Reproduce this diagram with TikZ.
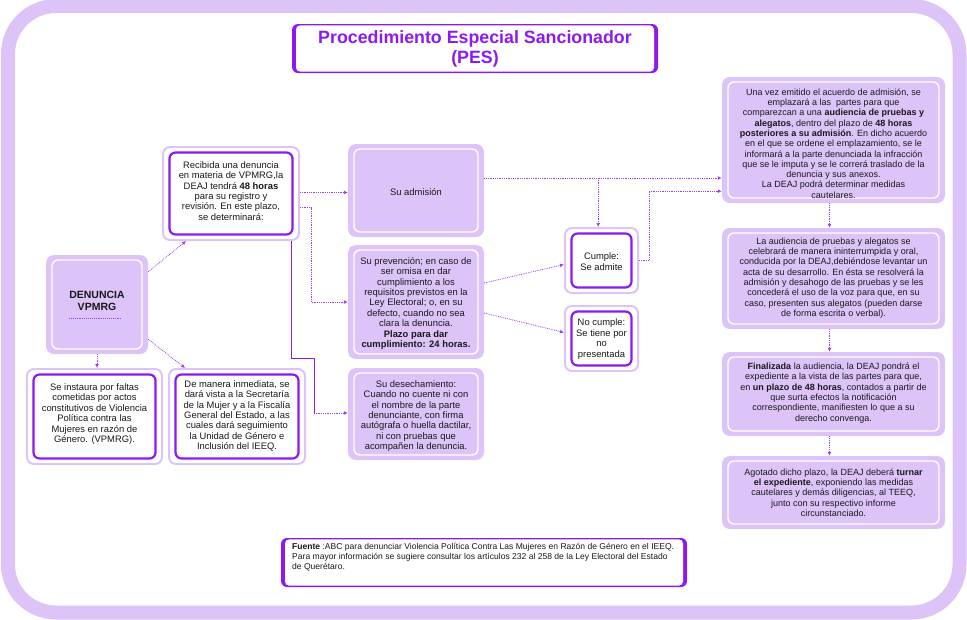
\documentclass[tikz,border=0pt]{standalone}
\usepackage{fontspec}
\setmainfont{Liberation Sans}
\usetikzlibrary{arrows.meta,fit,calc}
\definecolor{lav}{RGB}{220,196,249}
\definecolor{pur}{RGB}{140,26,240}
\definecolor{cpur}{RGB}{160,60,245}
\definecolor{txc}{RGB}{25,25,25}
\tikzset{
 lavout/.style={fill=lav, rounded corners=8pt, inner sep=0pt},
 lavin/.style={draw=white, line width=1.4pt, fill=lav, rounded corners=6pt, inner sep=0pt},
 whtout/.style={draw=lav, line width=2pt, fill=white, rounded corners=7pt, inner sep=0pt},
 whtin/.style={draw=pur, line width=2.2pt, fill=white, rounded corners=6pt, inner sep=0pt},
 txt/.style={align=center, inner sep=0pt, text=txc, font=\fontsize{9.4}{10.4}\selectfont},
 rtxt/.style={align=center, inner sep=0pt, text=txc, font=\fontsize{9}{10.3}\selectfont},
 conn/.style={draw=cpur, densely dotted, line width=0.8pt, -{Latex[length=4pt,width=4pt]}},
 solidc/.style={draw=pur, line width=0.9pt},
}
\newcommand\lavbox[5]{%
 \node[lavout, fit={(#2,#3)(#4,#5)}] (#1) {};
 \node[lavin, fit={(#2+6,#3+5)(#4-6,#5-5)}] {};}
\newcommand\whtbox[5]{%
 \node[whtout, fit={(#2,#3)(#4,#5)}] (#1) {};
 \node[whtin, fit={(#2+6.5,#3+5.5)(#4-6.5,#5-5.5)}] {};}
\begin{document}
\begin{tikzpicture}[x=1pt,y=-1pt]
\useasboundingbox (0,0) rectangle (967,619);
% outer frame
\draw[lav, line width=14pt, rounded corners=48pt] (8,6) rectangle (959.5,612.5);
% title
\node[fill=pur, rounded corners=6pt, inner sep=0pt, fit={(292,24)(658,73)}] (tit) {};
\fill[white, rounded corners=4pt] (296,25.4) rectangle (654,71.6);
\node[align=center, text=pur, font=\bfseries\fontsize{17.8}{20}\selectfont] at (tit) {Procedimiento Especial Sancionador\\(PES)};
% DENUNCIA
\lavbox{den}{46}{255}{148}{354}
\node[align=center, text=txc, font=\bfseries\fontsize{10.5}{11.5}\selectfont] (dent) at (97,301) {DENUNCIA\\VPMRG};
\draw[cpur, densely dotted, line width=0.9pt] (69,318) -- (121,318);
% left white boxes
\whtbox{rec}{163}{147}{299}{240}
\node[txt] at (231,191) {Recibida una denuncia\\en materia de VPMRG,la\\DEAJ tendrá \textbf{48 horas}\\para su registro y\\revisión. En este plazo,\\se determinará:};
\whtbox{sei}{27}{369}{162}{464}
\node[txt] at (94.5,414) {Se instaura por faltas\\cometidas por actos\\constitutivos de Violencia\\Política contra las\\Mujeres en razón de\\Género. (VPMRG).};
\whtbox{dem}{169}{369}{305}{464}
\node[txt] at (237,416) {De manera inmediata, se\\dará vista a la Secretaría\\de la Mujer y a la Fiscalía\\General del Estado, a las\\cuales dará seguimiento\\la Unidad de Género e\\Inclusión del IEEQ.};
% middle lavender boxes
\lavbox{adm}{348}{144}{484}{237}
\node[txt] at (416,192) {Su admisión};
\lavbox{prev}{348}{245}{484}{359}
\node[txt] at (416,303.5) {Su prevención; en caso de\\ser omisa en dar\\cumplimiento a los\\requisitos previstos en la\\Ley Electoral; o, en su\\defecto, cuando no sea\\clara la denuncia.\\\textbf{Plazo para dar}\\\textbf{cumplimiento: 24 horas.}};
\lavbox{des}{348}{368}{484}{460}
\node[txt] at (416,416) {Su desechamiento:\\Cuando no cuente ni con\\el nombre de la parte\\denunciante, con firma\\autógrafa o huella dactilar,\\ni con pruebas que\\acompañen la denuncia.};
% cumple / no cumple
\whtbox{cum}{565}{228}{638}{293}
\node[txt] at (601.5,261.5) {Cumple:\\Se admite};
\whtbox{noc}{565}{306}{638}{371}
\node[txt] at (601.5,339) {No cumple:\\Se tiene por\\no\\presentada};
% right column
\lavbox{r1}{722}{77}{945}{203}
\node[rtxt] at (833.5,143.5) {Una vez emitido el acuerdo de admisión, se\\emplazará a las\ \ partes para que\\comparezcan a una \textbf{audiencia de pruebas y}\\\textbf{alegatos}, dentro del plazo de \textbf{48 horas}\\\textbf{posteriores a su admisión}. En dicho acuerdo\\en el que se ordene el emplazamiento, se le\\informará a la parte denunciada la infracción\\que se le imputa y se le correrá traslado de la\\denuncia y sus anexos.\\La DEAJ podrá determinar medidas\\cautelares.};
\lavbox{r2}{722}{228}{945}{329}
\node[rtxt] at (833.5,278) {La audiencia de pruebas y alegatos se\\celebrará de manera ininterrumpida y oral,\\conducida por la DEAJ,debiéndose levantar un\\acta de su desarrollo. En ésta se resolverá la\\admisión y desahogo de las pruebas y se les\\concederá el uso de la voz para que, en su\\caso, presenten sus alegatos (pueden darse\\de forma escrita o verbal).};
\lavbox{r3}{722}{352}{945}{436}
\node[rtxt] at (833.5,393) {\textbf{Finalizada} la audiencia, la DEAJ pondrá el\\expediente a la vista de las partes para que,\\en \textbf{un plazo de 48 horas}, contados a partir de\\que surta efectos la notificación\\correspondiente, manifiesten lo que a su\\derecho convenga.};
\lavbox{r4}{722}{456}{945}{529}
\node[rtxt] at (833.5,492.5) {Agotado dicho plazo, la DEAJ deberá \textbf{turnar}\\\textbf{el expediente}, exponiendo las medidas\\cautelares y demás diligencias, al TEEQ,\\junto con su respectivo informe\\circunstanciado.};
% fuente
\node[fill=pur, rounded corners=6pt, inner sep=0pt, fit={(281,538)(687,587)}] (fue) {};
\fill[white, rounded corners=4pt] (285,539.4) rectangle (683,585.6);
\node[align=left, anchor=north west, inner sep=0pt, text=txc, font=\fontsize{8.55}{10}\selectfont] at (292,543) {\textbf{Fuente} :ABC para denunciar Violencia Política Contra Las Mujeres en Razón de Género en el IEEQ.\\Para mayor información se sugiere consultar los artículos 232 al 258 de la Ley Electoral del Estado\\de Querétaro.};
% connectors
\draw[conn] ($(den.north east)+(0,17)$) -- ($(rec.south west)+(24,0)$);
\draw[conn] ($(den.south east)+(0,-15)$) -- ($(dem.north west)+(17,0)$);
\draw[conn] (den.south) -- (den.south |- sei.north);
\draw[conn] ($(rec.east)+(0,-1)$) coordinate (ra) -- (ra -| adm.west);
\draw[conn] ($(rec.east)+(0,14)$) -- ++(11,0) |- (prev.west);
\draw[solidc] ($(rec.south east)+(-9,0)$) -- ++(0,117) -- ++(23,0) -- ++(0,55) coordinate (dk);
\draw[conn] (dk) -- (dk -| des.west);
\draw[conn] ($(prev.east)+(0,-19)$) -- ($(cum.west)+(0,4)$);
\draw[conn] ($(prev.east)+(0,11)$) -- ($(noc.west)+(0,-6)$);
\draw[conn] ($(adm.east)+(0,-12.5)$) coordinate (ad1) -- (ad1 -| r1.west);
\draw[conn] ($(ad1)+(114,0)$) coordinate (ad2) -- (ad2 |- cum.north);
\draw[conn] (cum.east) -- ++(10,0) |- ($(r1.south west)+(0,-12)$);
\draw[conn] ($(r1.south)+(-4,0)$) -- ($(r2.north)+(-4,0)$);
\draw[conn] ($(r2.south)+(-4,0)$) -- ($(r3.north)+(-4,0)$);
\draw[conn] ($(r3.south)+(-4,0)$) -- ($(r4.north)+(-4,0)$);
\end{tikzpicture}
\end{document}
